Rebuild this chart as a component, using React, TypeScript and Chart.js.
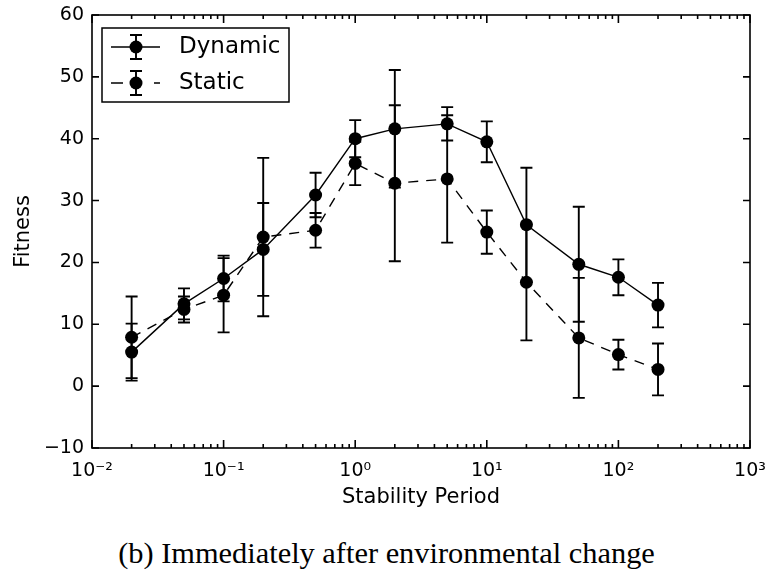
import React, { useEffect, useRef } from "react";
import { Chart, registerables } from "chart.js";

Chart.register(...registerables);

// ---- data ----
const stabilityPeriods = [0.02, 0.05, 0.1, 0.2, 0.5, 1, 2, 5, 10, 20, 50, 100, 200];
const dynamicFitness = [5.5, 13.3, 17.4, 22.1, 30.9, 40.0, 41.6, 42.4, 39.5, 26.1, 19.7, 17.6, 13.1];
const dynamicError = [4.6, 2.5, 3.7, 7.5, 3.6, 3.0, 9.5, 2.7, 3.3, 9.2, 9.3, 2.9, 3.6];
const staticFitness = [7.9, 12.4, 14.7, 24.1, 25.2, 36.0, 32.8, 33.5, 24.9, 16.8, 7.8, 5.1, 2.7];
const staticError = [6.6, 2.1, 6.0, 12.8, 2.8, 3.5, 12.6, 10.3, 3.5, 9.4, 9.7, 2.4, 4.2];
const yTickValues = [-10, 0, 10, 20, 30, 40, 50, 60];
const seriesLabels = ["Dynamic", "Static"];
const xAxisTitle = "Stability Period";
const yAxisTitle = "Fitness";
const captionText = "(b) Immediately after environmental change";

const FONT = "'DejaVu Sans', sans-serif";
const SUP: Record<string, string> = {
  "-": "\u207B", "0": "\u2070", "1": "\u00B9", "2": "\u00B2", "3": "\u00B3",
  "4": "\u2074", "5": "\u2075", "6": "\u2076", "7": "\u2077", "8": "\u2078", "9": "\u2079",
};
const toSup = (n: number) => String(n).split("").map((c) => SUP[c] || c).join("");

const isIntMantissa = (v: number) => {
  const e = Math.floor(Math.log10(v) + 1e-9);
  const m = v / Math.pow(10, e);
  return Math.abs(m - Math.round(m)) < 1e-6;
};
const powerOfTen = (v: number): number | null => {
  const e = Math.round(Math.log10(v));
  return Math.abs(v - Math.pow(10, e)) < 1e-9 * Math.pow(10, e) ? e : null;
};

const seriesList = [
  { means: dynamicFitness, errs: dynamicError },
  { means: staticFitness, errs: staticError },
];

const errorBarPlugin = {
  id: "errorBars",
  beforeDatasetsDraw(chart: any) {
    const { ctx } = chart;
    const xs = chart.scales.x;
    const ys = chart.scales.y;
    ctx.save();
    ctx.strokeStyle = "#000";
    ctx.lineWidth = 1.9;
    ctx.setLineDash([]);
    seriesList.forEach((s) => {
      stabilityPeriods.forEach((p, j) => {
        const px = xs.getPixelForValue(p);
        const top = ys.getPixelForValue(s.means[j] + s.errs[j]);
        const bot = ys.getPixelForValue(s.means[j] - s.errs[j]);
        ctx.beginPath();
        ctx.moveTo(px, top);
        ctx.lineTo(px, bot);
        ctx.moveTo(px - 6, top);
        ctx.lineTo(px + 6, top);
        ctx.moveTo(px - 6, bot);
        ctx.lineTo(px + 6, bot);
        ctx.stroke();
      });
    });
    ctx.restore();
  },
};

const frameLegendPlugin = {
  id: "frameLegend",
  afterDraw(chart: any) {
    const { ctx, chartArea: a } = chart;
    const xs = chart.scales.x;
    const ys = chart.scales.y;
    ctx.save();
    ctx.strokeStyle = "#000";
    ctx.lineWidth = 1.6;
    ctx.setLineDash([]);
    // inward ticks
    ctx.beginPath();
    xs.ticks.forEach((t: any) => {
      const px = xs.getPixelForValue(t.value);
      const len = powerOfTen(t.value) !== null ? 8 : 4;
      ctx.moveTo(px, a.bottom);
      ctx.lineTo(px, a.bottom - len);
      ctx.moveTo(px, a.top);
      ctx.lineTo(px, a.top + len);
    });
    ys.ticks.forEach((t: any) => {
      const py = ys.getPixelForValue(t.value);
      ctx.moveTo(a.left, py);
      ctx.lineTo(a.left + 7, py);
      ctx.moveTo(a.right, py);
      ctx.lineTo(a.right - 7, py);
    });
    ctx.stroke();
    // frame
    ctx.strokeRect(a.left, a.top, a.right - a.left, a.bottom - a.top);

    // legend
    const lx = a.left + 10;
    const ly = a.top + 13;
    const lw = 187;
    const lh = 74;
    ctx.fillStyle = "#fff";
    ctx.fillRect(lx, ly, lw, lh);
    ctx.lineWidth = 1.5;
    ctx.strokeRect(lx, ly, lw, lh);
    const rows = [ly + 19, ly + 55];
    rows.forEach((ry, i) => {
      const cx = lx + 34;
      ctx.lineWidth = 1.4;
      ctx.beginPath();
      if (i === 0) {
        ctx.moveTo(lx + 9, ry);
        ctx.lineTo(lx + 58, ry);
      } else {
        ctx.moveTo(lx + 9, ry);
        ctx.lineTo(lx + 21, ry);
        ctx.moveTo(lx + 52, ry);
        ctx.lineTo(lx + 58, ry);
      }
      ctx.stroke();
      ctx.lineWidth = 1.9;
      ctx.beginPath();
      ctx.moveTo(cx, ry - 12);
      ctx.lineTo(cx, ry + 12);
      ctx.moveTo(cx - 6, ry - 12);
      ctx.lineTo(cx + 6, ry - 12);
      ctx.moveTo(cx - 6, ry + 12);
      ctx.lineTo(cx + 6, ry + 12);
      ctx.stroke();
      ctx.fillStyle = "#000";
      ctx.beginPath();
      ctx.arc(cx, ry, 6.5, 0, Math.PI * 2);
      ctx.fill();
      ctx.font = `23px ${FONT}`;
      ctx.textBaseline = "middle";
      ctx.textAlign = "left";
      ctx.fillText(seriesLabels[i], lx + 77, ry);
    });
    ctx.restore();
  },
};

export default function App() {
  const canvasRef = useRef<HTMLCanvasElement | null>(null);

  useEffect(() => {
    if (!canvasRef.current) return;
    const mk = (means: number[]) => stabilityPeriods.map((x, i) => ({ x, y: means[i] }));
    const chart = new Chart(canvasRef.current, {
      type: "line",
      data: {
        datasets: [
          {
            label: seriesLabels[0],
            data: mk(dynamicFitness),
            borderColor: "#000",
            borderWidth: 1.4,
            pointRadius: 6.5,
            pointBackgroundColor: "#000",
            pointBorderColor: "#000",
            pointBorderWidth: 0,
            fill: false,
            tension: 0,
          },
          {
            label: seriesLabels[1],
            data: mk(staticFitness),
            borderColor: "#000",
            borderWidth: 1.4,
            borderDash: [10, 8],
            pointRadius: 6.5,
            pointBackgroundColor: "#000",
            pointBorderColor: "#000",
            pointBorderWidth: 0,
            fill: false,
            tension: 0,
          },
        ],
      },
      options: {
        animation: false,
        responsive: false,
        devicePixelRatio: 1,
        layout: { padding: { left: 0, right: 19, top: 15, bottom: 0 } },
        plugins: { legend: { display: false }, tooltip: { enabled: false } },
        scales: {
          x: {
            type: "logarithmic",
            position: "bottom",
            min: 0.01,
            max: 1000,
            grid: { display: false, drawTicks: false },
            border: { display: false },
            afterBuildTicks: (s: any) => {
              s.ticks = s.ticks.filter((t: any) => isIntMantissa(t.value));
            },
            afterFit: (s: any) => {
              s.height = 72;
              s.paddingLeft = 0;
              s.paddingRight = 0;
            },
            ticks: {
              autoSkip: false,
              maxRotation: 0,
              minRotation: 0,
              padding: 12,
              color: "#000",
              font: { family: FONT, size: 19 },
              callback: (v: any) => {
                const e = powerOfTen(Number(v));
                return e === null ? "" : "10" + toSup(e);
              },
            },
            title: {
              display: true,
              text: xAxisTitle,
              color: "#000",
              font: { family: FONT, size: 21 },
              padding: { top: 0, bottom: 10 },
            },
          },
          y: {
            type: "linear",
            position: "left",
            min: yTickValues[0],
            max: yTickValues[yTickValues.length - 1],
            grid: { display: false, drawTicks: false },
            border: { display: false },
            afterBuildTicks: (s: any) => {
              s.ticks = yTickValues.map((value) => ({ value }));
            },
            afterFit: (s: any) => {
              s.width = 92;
              s.paddingTop = 0;
              s.paddingBottom = 0;
            },
            ticks: {
              padding: 8,
              color: "#000",
              font: { family: FONT, size: 19 },
              callback: (v: any) => (Number(v) < 0 ? "\u2212" + Math.abs(Number(v)) : String(v)),
            },
            title: {
              display: true,
              text: yAxisTitle,
              color: "#000",
              font: { family: FONT, size: 21 },
              padding: { top: 11, bottom: 0 },
            },
          },
        },
      } as any,
      plugins: [errorBarPlugin, frameLegendPlugin],
    });
    return () => chart.destroy();
  }, []);

  return (
    <div style={{ position: "absolute", left: 0, top: 0, width: 769, height: 573, background: "#fff" }}>
      <canvas
        ref={canvasRef}
        width={769}
        height={520}
        style={{ display: "block", width: 769, height: 520 }}
      />
      <div
        style={{
          position: "absolute",
          left: 2,
          top: 538,
          width: 769,
          textAlign: "center",
          fontFamily: "'Liberation Serif', 'Times New Roman', serif",
          fontSize: 30.4,
          lineHeight: "1",
          color: "#000",
          whiteSpace: "nowrap",
        }}
      >
        {captionText}
      </div>
    </div>
  );
}
